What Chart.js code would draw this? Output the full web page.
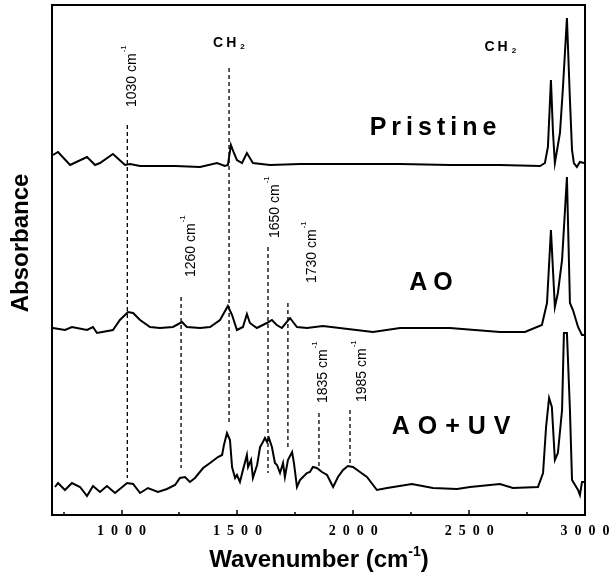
<!DOCTYPE html>
<html>
<head>
<meta charset="utf-8">
<script src="https://cdn.jsdelivr.net/npm/chart.js@4.4.1/dist/chart.umd.min.js"></script>
<style>
  html, body { margin: 0; padding: 0; background: #fff; }
  canvas { display: block; }
</style>
</head>
<body>
<canvas id="ftir" width="610" height="575"></canvas>
<script>
// FTIR spectra (arbitrary absorbance units, curves offset vertically)
const PRISTINE_WN  = [704, 726, 778, 851, 886, 907, 963, 1015, 1037, 1080, 1123, 1231, 1339, 1412, 1446, 1459, 1472, 1485, 1498, 1520, 1541, 1567, 1641, 1770, 1986, 2202, 2417, 2633, 2806, 2827, 2840, 2853, 2862, 2870, 2892, 2905, 2922, 2935, 2944, 2952, 2965, 2978, 2996];
const PRISTINE_ABS = [360, 363, 350, 358, 350, 352, 361, 350, 351, 349, 349, 349, 348, 352, 349, 350, 370, 362, 355, 352, 362, 352, 350, 351, 351, 351, 350, 350, 349, 352, 368, 435, 382, 352, 382, 428, 497, 415, 365, 352, 348, 353, 352];

const AO_WN  = [704, 756, 786, 851, 877, 894, 963, 993, 1028, 1050, 1080, 1123, 1166, 1222, 1261, 1282, 1339, 1382, 1425, 1459, 1477, 1498, 1524, 1541, 1554, 1584, 1627, 1649, 1670, 1692, 1727, 1757, 1800, 1869, 2085, 2202, 2417, 2633, 2741, 2814, 2836, 2853, 2870, 2883, 2901, 2922, 2935, 2948, 2970, 2987, 2996];
const AO_ABS = [187, 185, 188, 185, 188, 182, 185, 195, 203, 202, 195, 188, 187, 188, 193, 188, 187, 188, 195, 209, 200, 185, 188, 201, 192, 187, 192, 195, 190, 187, 197, 188, 187, 189, 183, 187, 187, 183, 183, 190, 212, 285, 208, 222, 255, 338, 212, 205, 188, 180, 180];

const AOUV_WN  = [713, 726, 756, 786, 821, 851, 877, 907, 937, 972, 1024, 1050, 1080, 1114, 1157, 1196, 1231, 1252, 1274, 1295, 1317, 1352, 1382, 1416, 1434, 1442, 1455, 1468, 1477, 1490, 1498, 1511, 1524, 1541, 1546, 1559, 1567, 1585, 1598, 1610, 1619, 1628, 1636, 1649, 1662, 1671, 1684, 1697, 1705, 1718, 1736, 1744, 1757, 1770, 1783, 1800, 1813, 1826, 1843, 1865, 1887, 1913, 1934, 1956, 1977, 1999, 2029, 2059, 2102, 2146, 2253, 2344, 2448, 2504, 2633, 2689, 2797, 2819, 2832, 2845, 2857, 2870, 2883, 2901, 2909, 2922, 2935, 2944, 2970, 2978, 2987, 2996];
const AOUV_ABS = [28, 32, 25, 32, 28, 19, 29, 23, 29, 22, 32, 31, 22, 27, 23, 26, 30, 37, 38, 33, 37, 47, 52, 58, 60, 70, 82, 75, 48, 37, 40, 33, 45, 60, 48, 55, 37, 50, 68, 73, 77, 73, 77, 68, 52, 50, 42, 52, 38, 55, 63, 52, 28, 35, 38, 42, 43, 48, 47, 43, 40, 28, 38, 45, 49, 48, 43, 38, 25, 27, 31, 27, 26, 28, 31, 27, 28, 42, 88, 117, 108, 55, 62, 105, 182, 182, 105, 35, 25, 20, 33, 33];

// dashed marker lines
const PEAK_WN     = [1025, 1257, 1464, 1632, 1718, 1852, 1986];
const PEAK_TOP    = [390, 218, 447, 268, 212, 102, 105];
const PEAK_BOTTOM = [37, 47, 93, 42, 65, 48, 50];

// rotated peak labels
const LABEL_TEXT = ['1030', '1260', '1650', '1730', '1835', '1985'];
const LABEL_WN   = [1045, 1300, 1662, 1822, 1869, 2038];
const LABEL_ABS  = [408, 238, 277, 232, 112, 113];

const SERIES_NAMES = ['Pristine', 'AO', 'AO+UV'];
const NAME_WN  = [2344, 2335, 2422];
const NAME_ABS = [387, 232, 88];
const NAME_SPACING = [5, 6, 8];

const CH2_WN  = [1395, 2566];
const CH2_ABS = [472, 468];

const X_TICKS = [1000, 1500, 2000, 2500, 3000];
const X_MINOR = [750, 1250, 1750, 2250, 2750];

const toPoints = (xs, ys) => xs.map((x, i) => ({ x, y: ys[i] }));

const spectrum = (label, xs, ys) => ({
  label,
  data: toPoints(xs, ys),
  borderColor: '#000',
  borderWidth: 2,
  pointRadius: 0,
  tension: 0,
  fill: false,
});

const markers = PEAK_WN.map((wn, i) => ({
  label: 'marker' + i,
  data: [{ x: wn, y: PEAK_TOP[i] }, { x: wn, y: PEAK_BOTTOM[i] }],
  borderColor: '#000',
  borderWidth: 1.3,
  borderDash: [4, 3],
  pointRadius: 0,
  fill: false,
}));

function spacedText(ctx, text, x, y, spacing) {
  // centred text with letter spacing
  ctx.save();
  if ('letterSpacing' in ctx) ctx.letterSpacing = spacing + 'px';
  const w = ctx.measureText(text).width - ('letterSpacing' in ctx ? spacing : 0);
  ctx.textAlign = 'left';
  ctx.fillText(text, x - w / 2, y);
  ctx.restore();
}

const decorPlugin = {
  id: 'decor',
  afterDraw(chart) {
    const { ctx, chartArea: a, scales: { x, y } } = chart;
    ctx.save();
    ctx.fillStyle = '#000';
    ctx.strokeStyle = '#000';

    // frame
    ctx.lineWidth = 2;
    ctx.strokeRect(a.left, a.top, a.right - a.left, a.bottom - a.top);

    // inward ticks on the bottom axis
    ctx.lineWidth = 1.5;
    X_TICKS.forEach(v => {
      const px = Math.round(x.getPixelForValue(v));
      ctx.beginPath(); ctx.moveTo(px, a.bottom); ctx.lineTo(px, a.bottom - 5); ctx.stroke();
    });
    X_MINOR.forEach(v => {
      const px = Math.round(x.getPixelForValue(v));
      ctx.beginPath(); ctx.moveTo(px, a.bottom); ctx.lineTo(px, a.bottom - 3); ctx.stroke();
    });

    // peak labels, rotated
    LABEL_TEXT.forEach((t, i) => {
      const px = x.getPixelForValue(LABEL_WN[i]);
      const py = y.getPixelForValue(LABEL_ABS[i]);
      ctx.save();
      ctx.translate(px, py);
      ctx.rotate(-Math.PI / 2);
      ctx.font = '14px "Liberation Sans", Arial, sans-serif';
      ctx.textAlign = 'left';
      ctx.textBaseline = 'middle';
      const main = t + ' cm';
      ctx.fillText(main, 0, 0);
      const w = ctx.measureText(main).width;
      ctx.font = '8px "Liberation Sans", Arial, sans-serif';
      ctx.fillText('-1', w + 1, -8);
      ctx.restore();
    });

    // CH2 labels
    CH2_WN.forEach((wn, i) => {
      const px = x.getPixelForValue(wn);
      const py = y.getPixelForValue(CH2_ABS[i]);
      ctx.font = 'bold 14px "Liberation Sans", Arial, sans-serif';
      ctx.textBaseline = 'middle';
      ctx.textAlign = 'left';
      if ('letterSpacing' in ctx) ctx.letterSpacing = '3px';
      ctx.fillText('CH', px, py);
      const w = ctx.measureText('CH').width;
      if ('letterSpacing' in ctx) ctx.letterSpacing = '0px';
      ctx.font = 'bold 8px "Liberation Sans", Arial, sans-serif';
      ctx.fillText('2', px + w + 1, py + 4);
    });

    // series names
    ctx.font = 'bold 25px "Liberation Sans", Arial, sans-serif';
    ctx.textBaseline = 'middle';
    SERIES_NAMES.forEach((n, i) => {
      spacedText(ctx, n, x.getPixelForValue(NAME_WN[i]), y.getPixelForValue(NAME_ABS[i]), NAME_SPACING[i]);
    });

    // y title
    ctx.save();
    ctx.translate(20, 243);
    ctx.rotate(-Math.PI / 2);
    ctx.font = 'bold 24px "Liberation Sans", Arial, sans-serif';
    ctx.textAlign = 'center';
    ctx.textBaseline = 'middle';
    ctx.fillText('Absorbance', 0, 1);
    ctx.restore();

    // x title with superscript
    const t1 = 'Wavenumber (cm', sup = '-1', t2 = ')';
    ctx.textBaseline = 'alphabetic';
    ctx.textAlign = 'left';
    ctx.font = 'bold 24px "Liberation Sans", Arial, sans-serif';
    const w1 = ctx.measureText(t1).width, w3 = ctx.measureText(t2).width;
    ctx.font = 'bold 14px "Liberation Sans", Arial, sans-serif';
    const w2 = ctx.measureText(sup).width;
    let sx = 319 - (w1 + w2 + w3) / 2;
    ctx.font = 'bold 24px "Liberation Sans", Arial, sans-serif';
    ctx.fillText(t1, sx, 567);
    ctx.font = 'bold 14px "Liberation Sans", Arial, sans-serif';
    ctx.fillText(sup, sx + w1, 556);
    ctx.font = 'bold 24px "Liberation Sans", Arial, sans-serif';
    ctx.fillText(t2, sx + w1 + w2, 567);

    ctx.restore();
  }
};

new Chart(document.getElementById('ftir').getContext('2d'), {
  type: 'line',
  data: {
    datasets: [
      spectrum('Pristine', PRISTINE_WN, PRISTINE_ABS),
      spectrum('AO', AO_WN, AO_ABS),
      spectrum('AO+UV', AOUV_WN, AOUV_ABS),
      ...markers,
    ]
  },
  options: {
    responsive: false,
    animation: false,
    layout: { padding: { left: 52, right: 25, top: 5, bottom: 0 } },
    plugins: { legend: { display: false }, tooltip: { enabled: false } },
    scales: {
      x: {
        type: 'linear',
        min: 700,
        max: 3000,
        afterBuildTicks: s => { s.ticks = X_TICKS.map(v => ({ value: v })); },
        afterFit: s => { s.height = 60; s.paddingLeft = 0; s.paddingRight = 0; },
        grid: { display: false, drawTicks: false },
        border: { display: false },
        ticks: {
          padding: 8,
          color: '#000',
          maxRotation: 0,
          font: { family: '"Liberation Serif", "Times New Roman", serif', size: 14, weight: 'bold' },
          callback: v => String(v).split('').join('\u2002'),
        }
      },
      y: { display: false, min: 0, max: 510 }
    }
  },
  plugins: [decorPlugin]
});
</script>
</body>
</html>
